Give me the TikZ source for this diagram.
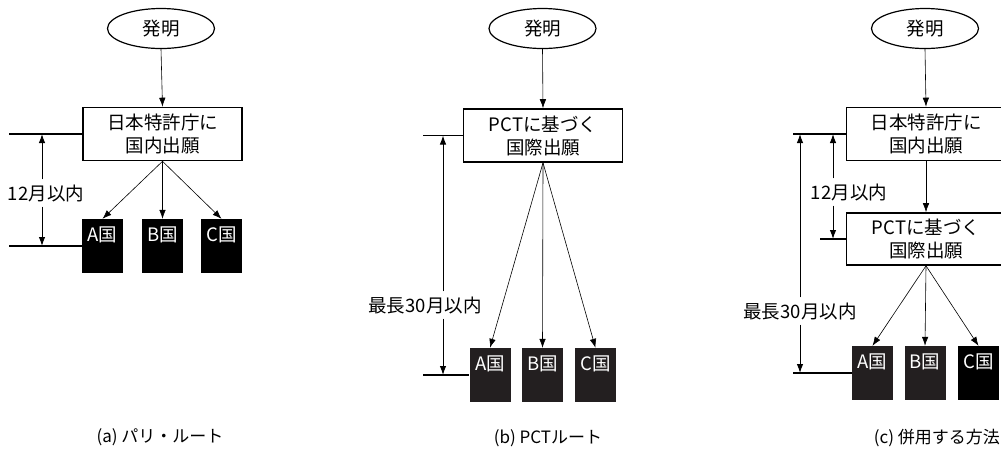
\documentclass[tikz,border=0pt]{standalone}
\usepackage{fontspec}
\setmainfont{Noto Sans CJK JP}
\usetikzlibrary{arrows.meta,shapes.geometric}
\definecolor{ink}{HTML}{231F20}
\begin{document}
\begin{tikzpicture}[x=1pt,y=-1pt,
  every node/.style={font=\fontsize{18.5}{23}\selectfont},
  oval/.style={ellipse, draw, line width=1.2pt, minimum width=107pt, minimum height=40pt, inner sep=0pt},
  stepbox/.style={rectangle, draw, line width=1.6pt, minimum width=159pt, minimum height=53pt, align=center, inner sep=0pt},
  land/.style={rectangle, fill=#1, minimum width=41pt, minimum height=54pt, inner sep=0pt},
  land/.default=black,
  landtext/.style={text=white, inner sep=0pt},
  conn/.style={-{Latex[length=9pt,width=6.5pt]}, line width=0.6pt},
  refline/.style={line width=1.4pt},
  dim/.style={-{Latex[length=9pt,width=6.5pt]}, line width=1pt},
  dimlabel/.style={inner xsep=1pt, inner ysep=5pt},
  caption/.style={font=\fontsize{17}{20}\selectfont, inner sep=0pt}
]
\useasboundingbox (0,0) rectangle (1001,451);
\clip (0,0) rectangle (1001,451);

% ---------- (a) ----------
\node[oval] (a-inv) at (161,28.5) {発明};
\node[stepbox] (a-box) at (162.5,134) {日本特許庁に\\国内出願};
\node[land] (a-A) at (102.5,246) {};
\node[land] (a-B) at (162.5,246) {};
\node[land] (a-C) at (221.5,246) {};
\node[landtext] (a-At) at ([yshift=-16pt]a-A.north) {A国};
\node[landtext] (a-Bt) at ([yshift=-16pt]a-B.north) {B国};
\node[landtext] (a-Ct) at ([yshift=-16pt]a-C.north) {C国};
\draw[conn] (a-inv.south) -- (a-box.north);
\draw[conn] (a-box.south) -- (a-A.north);
\draw[conn] (a-box.south) -- (a-B.north);
\draw[conn] (a-box.south) -- (a-C.north);
\coordinate (a-t) at (a-box.west -| 9,0);
\coordinate (a-b) at (a-A.west -| 9,0);
\coordinate (a-x) at (42,0);
\draw[refline] (a-t) -- (a-box.west);
\draw[refline] (a-b) -- (a-A.west);
\node[dimlabel] (a-lab) at (46,193) {12月以内};
\draw[dim] (a-lab.north -| a-x) -- (a-box.west -| a-x);
\draw[dim] (a-lab.south -| a-x) -- (a-A.west -| a-x);
\node[caption] (a-cap) at (160,437) {(a) パリ・ルート};

% ---------- (b) ----------
\node[oval] (b-inv) at (542.5,28.5) {発明};
\node[stepbox] (b-box) at (543,135.5) {PCTに基づく\\国際出願};
\node[land=ink] (b-A) at (490,375) {};
\node[land=ink] (b-B) at (542.5,375) {};
\node[land=ink] (b-C) at (595.5,375) {};
\node[landtext] (b-At) at ([yshift=-16pt]b-A.north) {A国};
\node[landtext] (b-Bt) at ([yshift=-16pt]b-B.north) {B国};
\node[landtext] (b-Ct) at ([yshift=-16pt]b-C.north) {C国};
\draw[conn] (b-inv.south) -- (b-box.north);
\draw[conn] (b-box.south) -- (b-A.north);
\draw[conn] (b-box.south) -- (b-B.north);
\draw[conn] (b-box.south) -- (b-C.north);
\coordinate (b-t) at (b-box.west -| 423,0);
\coordinate (b-b) at (b-A.west -| 423,0);
\coordinate (b-x) at (443,0);
\draw[refline] (b-t) -- (b-box.west);
\draw[refline] (b-b) -- (b-A.west);
\node[dimlabel] (b-lab) at (425,305) {最長30月以内};
\draw[dim] (b-lab.north -| b-x) -- (b-box.west -| b-x);
\draw[dim] (b-lab.south -| b-x) -- (b-A.west -| b-x);
\node[caption] (b-cap) at (548,438) {(b) PCTルート};

% ---------- (c) ----------
\node[oval] (c-inv) at (925,28.5) {発明};
\node[stepbox] (c-box1) at (926,134) {日本特許庁に\\国内出願};
\node[stepbox, minimum height=52pt] (c-box2) at (926,239) {PCTに基づく\\国際出願};
\node[land=ink] (c-A) at (872.5,373) {};
\node[land=ink] (c-B) at (925,373) {};
\node[land] (c-C) at (978.5,373) {};
\node[landtext] (c-At) at ([yshift=-16pt]c-A.north) {A国};
\node[landtext] (c-Bt) at ([yshift=-16pt]c-B.north) {B国};
\node[landtext] (c-Ct) at ([yshift=-16pt]c-C.north) {C国};
\draw[conn] (c-inv.south) -- (c-box1.north);
\draw[conn] (c-box1.south) -- (c-box2.north);
\draw[conn] (c-box2.south) -- (c-A.north);
\draw[conn] (c-box2.south) -- (c-B.north);
\draw[conn] (c-box2.south) -- (c-C.north);
\coordinate (c-t) at (c-box1.west -| 793,0);
\coordinate (c-m) at (c-box2.west -| 820,0);
\coordinate (c-b) at (c-A.west -| 793,0);
\coordinate (c-x1) at (833,0);
\coordinate (c-x2) at (800,0);
\draw[refline] (c-t) -- (c-box1.west);
\draw[refline] (c-m) -- (c-box2.west);
\draw[refline] (c-b) -- (c-A.west);
\node[dimlabel] (c-lab1) at (849,192) {12月以内};
\draw[dim] (c-lab1.north -| c-x1) -- (c-box1.west -| c-x1);
\draw[dim] (c-lab1.south -| c-x1) -- (c-box2.west -| c-x1);
\node[dimlabel] (c-lab2) at (800,311) {最長30月以内};
\draw[dim] (c-lab2.north -| c-x2) -- (c-box1.west -| c-x2);
\draw[dim] (c-lab2.south -| c-x2) -- (c-A.west -| c-x2);
\node[caption, anchor=east] (c-cap) at (1000,438) {(c) 併用する方法};
\end{tikzpicture}
\end{document}
